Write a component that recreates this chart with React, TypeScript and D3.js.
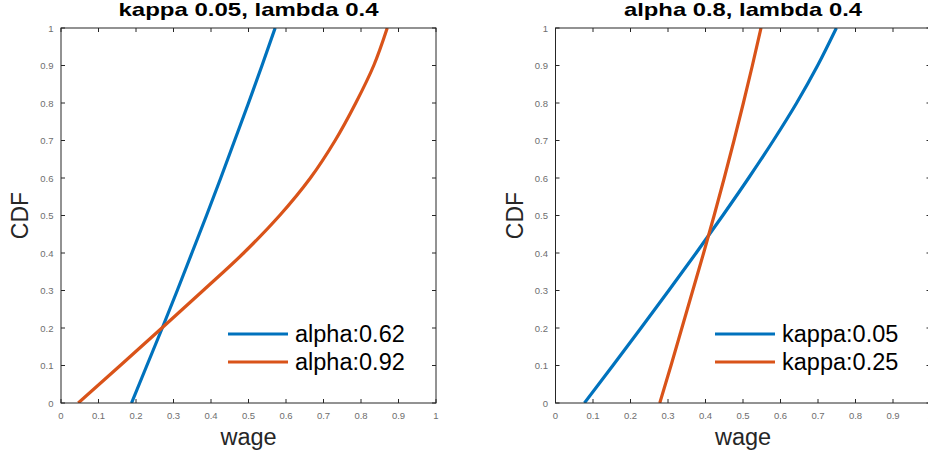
import React from "react";
import * as d3 from "d3";

// CDF levels at which each wage curve is sampled
const cdfLevels = [0, 0.1, 0.2, 0.3, 0.4, 0.5, 0.6, 0.7, 0.8, 0.9, 1.0];

// Panel 1: kappa 0.05, lambda 0.4 — wage at each CDF level
const wageAlpha062 = [0.188, 0.229, 0.27, 0.31, 0.349, 0.388, 0.426, 0.463, 0.5, 0.536, 0.571];
const wageAlpha092 = [0.046, 0.158, 0.269, 0.379, 0.487, 0.583, 0.665, 0.731, 0.786, 0.834, 0.87];

// Panel 2: alpha 0.8, lambda 0.4
const wageKappa005 = [0.077, 0.153, 0.228, 0.302, 0.375, 0.446, 0.515, 0.581, 0.643, 0.699, 0.749];
const wageKappa025 = [0.278, 0.308, 0.337, 0.366, 0.395, 0.423, 0.45, 0.476, 0.501, 0.525, 0.548];

const tickValues = [0, 0.1, 0.2, 0.3, 0.4, 0.5, 0.6, 0.7, 0.8, 0.9, 1];
const tickLabels = ["0", "0.1", "0.2", "0.3", "0.4", "0.5", "0.6", "0.7", "0.8", "0.9", "1"];

const panelTitles = ["kappa 0.05, lambda 0.4", "alpha 0.8, lambda 0.4"];
const legendLabels = [
  ["alpha:0.62", "alpha:0.92"],
  ["kappa:0.05", "kappa:0.25"],
];
const seriesColors = ["#0072BD", "#D95319"];

const FONT = "'Liberation Sans', Arial, Helvetica, sans-serif";
const AXIS = "#262626";
const TICK_TEXT = "#6e6e6e";

type Panel = {
  left: number;
  title: string;
  titleWidth: number;
  series: number[][];
  labels: string[];
  legendX: number;
};

const PLOT_W = 375;
const TOP = 28;
const BOTTOM = 403;

function CdfPanel({ p }: { p: Panel }) {
  const x = d3.scaleLinear().domain([0, 1]).range([p.left, p.left + PLOT_W]);
  const y = d3.scaleLinear().domain([0, 1]).range([BOTTOM, TOP]);
  const line = d3
    .line<number>()
    .x((d) => x(d))
    .y((_, i) => y(cdfLevels[i]))
    .curve(d3.curveMonotoneY);

  const clipId = `clip-${Math.round(p.left)}`;
  const tickLen = 4;
  return (
    <g>
      <defs>
        <clipPath id={clipId}>
          <rect x={x(0)} y={y(1)} width={x(1) - x(0)} height={y(0) - y(1)} />
        </clipPath>
      </defs>
      {/* curves */}
      <g clipPath={`url(#${clipId})`}>
        {p.series.map((s, i) => (
          <path
            key={i}
            d={line(s) || ""}
            fill="none"
            stroke={seriesColors[i]}
            strokeWidth={3.2}
            strokeLinejoin="round"
          />
        ))}
      </g>
      {/* box */}
      <rect
        x={x(0)}
        y={y(1)}
        width={x(1) - x(0)}
        height={y(0) - y(1)}
        fill="none"
        stroke={AXIS}
        strokeWidth={1}
      />
      {/* ticks on all four sides, pointing inward */}
      {tickValues.map((t, i) => (
        <g key={i}>
          <line x1={x(t)} x2={x(t)} y1={y(0)} y2={y(0) - tickLen} stroke={AXIS} />
          <line x1={x(t)} x2={x(t)} y1={y(1)} y2={y(1) + tickLen} stroke={AXIS} />
          <line x1={x(0)} x2={x(0) + tickLen} y1={y(t)} y2={y(t)} stroke={AXIS} />
          <line x1={x(1)} x2={x(1) - tickLen} y1={y(t)} y2={y(t)} stroke={AXIS} />
          <text
            x={x(t)}
            y={y(0) + 16}
            textAnchor="middle"
            fontSize={9.5}
            fill={TICK_TEXT}
            fontFamily={FONT}
          >
            {tickLabels[i]}
          </text>
          <text
            x={x(0) - 7.5}
            y={y(t) + 3.5}
            textAnchor="end"
            fontSize={9.5}
            fill={TICK_TEXT}
            fontFamily={FONT}
          >
            {tickLabels[i]}
          </text>
        </g>
      ))}
      {/* title */}
      <text
        x={(x(0) + x(1)) / 2}
        y={16}
        textAnchor="middle"
        fontSize={18.5}
        fontWeight="bold"
        fill="#000"
        fontFamily={FONT}
        textLength={p.titleWidth}
        lengthAdjust="spacingAndGlyphs"
      >
        {p.title}
      </text>
      {/* axis labels */}
      <text
        x={(x(0) + x(1)) / 2}
        y={445}
        textAnchor="middle"
        fontSize={23.5}
        fill={AXIS}
        fontFamily={FONT}
      >
        wage
      </text>
      <text
        transform={`translate(${x(0) - 33},${(y(0) + y(1)) / 2}) rotate(-90)`}
        textAnchor="middle"
        fontSize={23}
        fill={AXIS}
        fontFamily={FONT}
      >
        CDF
      </text>
      {/* legend */}
      {p.labels.map((lab, i) => (
        <g key={lab} transform={`translate(${p.legendX},${334 + i * 28})`}>
          <line x1={0} x2={60} y1={0} y2={0} stroke={seriesColors[i]} strokeWidth={3.2} />
          <text x={67} y={8} fontSize={23.5} fill="#000" fontFamily={FONT}>
            {lab}
          </text>
        </g>
      ))}
    </g>
  );
}

export default function App() {
  const panels: Panel[] = [
    {
      left: 61,
      title: panelTitles[0],
      titleWidth: 260,
      series: [wageAlpha062, wageAlpha092],
      labels: legendLabels[0],
      legendX: 228,
    },
    {
      left: 555.5,
      title: panelTitles[1],
      titleWidth: 238,
      series: [wageKappa005, wageKappa025],
      labels: legendLabels[1],
      legendX: 715,
    },
  ];
  return (
    <svg
      width={928}
      height={457}
      style={{ position: "absolute", left: 0, top: 0, background: "#fff" }}
    >
      <rect width={928} height={457} fill="#fff" />
      {panels.map((p) => (
        <CdfPanel key={p.left} p={p} />
      ))}
    </svg>
  );
}
